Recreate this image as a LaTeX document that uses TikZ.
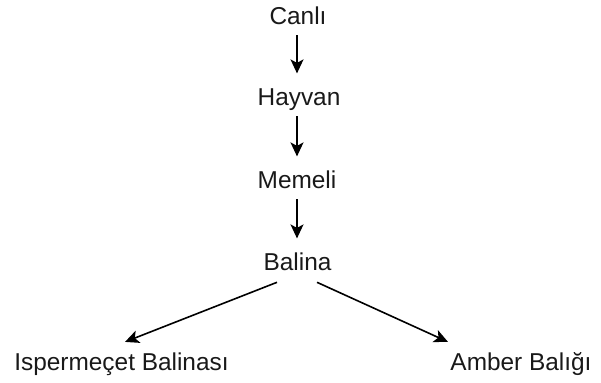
\documentclass[tikz,border=0pt]{standalone}
\usepackage{fontspec}
\setmainfont{Liberation Sans}
\usetikzlibrary{arrows.meta}
\begin{document}
\begin{tikzpicture}[x=1pt,y=-1pt,
  lbl/.style={font=\fontsize{24.4}{28}\selectfont, text height=17pt, text depth=5pt, inner sep=0pt, text=black!90},
  arr/.style={line width=1.6pt, -{Stealth[length=14pt,width=13pt,inset=3.5pt]}}]
\useasboundingbox (0,0) rectangle (601,382);
\node[lbl] (can) at (298,18.4) {Canlı};
\node[lbl] (hay) at (299,99.6) {Hayvan};
\node[lbl] (mem) at (297,182.6) {Memeli};
\node[lbl] (bal) at (297.5,264.6) {Balina};
\node[lbl] (isp) at (121.5,364.6) {Ispermeçet Balinası};
\node[lbl] (amb) at (521,364.6) {Amber Balığı};
\draw[arr] ([xshift=-1pt,yshift=-5.5pt]can.south) -- ([xshift=-2pt,yshift=15pt]hay.north);
\draw[arr] ([xshift=-2pt,yshift=-5.5pt]hay.south) -- ([xshift=0pt,yshift=15pt]mem.north);
\draw[arr] ([yshift=-5.5pt]mem.south) -- ([xshift=-0.5pt,yshift=15pt]bal.north);
\draw[arr] ([xshift=-20.5pt,yshift=-6.5pt]bal.south) -- ([xshift=3.5pt,yshift=11.5pt]isp.north);
\draw[arr] ([xshift=19.5pt,yshift=-6.5pt]bal.south) -- ([xshift=-73pt,yshift=11.5pt]amb.north);
\end{tikzpicture}
\end{document}
